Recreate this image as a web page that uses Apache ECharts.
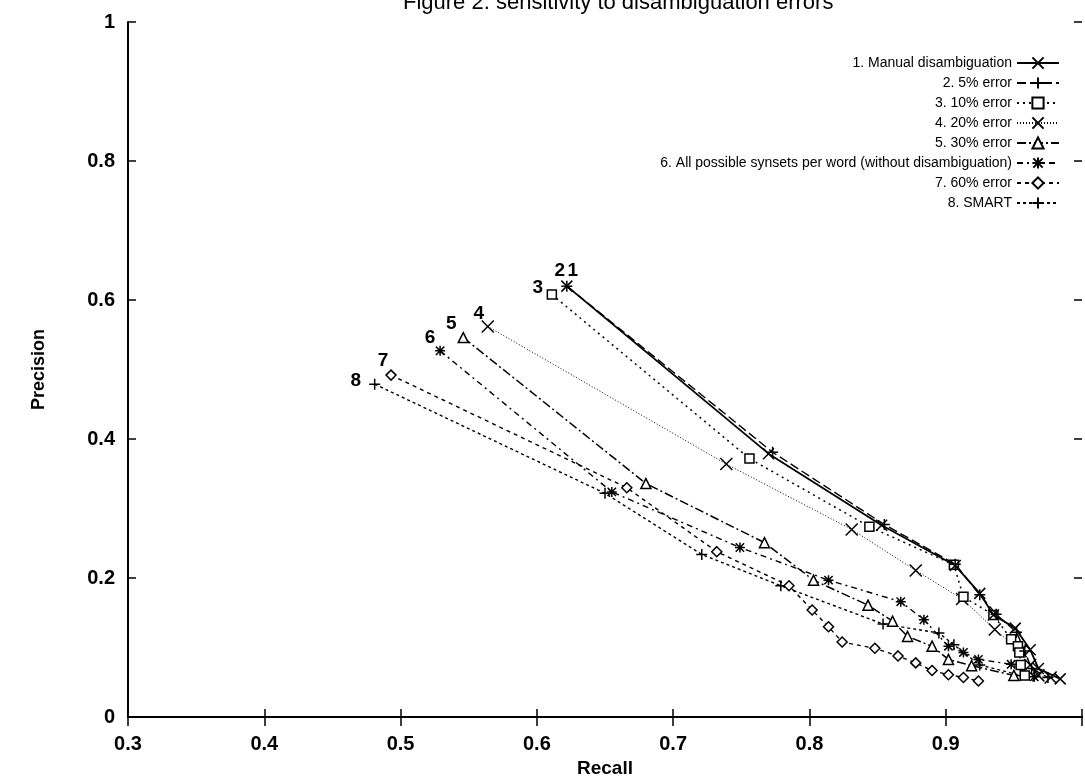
<!DOCTYPE html>
<html>
<head>
<meta charset="utf-8">
<script src="https://cdn.jsdelivr.net/npm/echarts@6/dist/echarts.min.js"></script>
<style>
html,body{margin:0;padding:0;background:#fff;overflow:hidden;width:1085px;height:783px;}
#chart{width:1085px;height:783px;position:absolute;left:0;top:0;}
</style>
</head>
<body>
<div id="chart"></div>
<script>
// ---- data ----
const seriesNames = [
  '1. Manual disambiguation',
  '2. 5% error',
  '3. 10% error',
  '4. 20% error',
  '5. 30% error',
  '6. All possible synsets per word (without disambiguation)',
  '7. 60% error',
  '8. SMART'
];
const startLabels = ['1', '2', '3', '4', '5', '6', '7', '8'];

const s1Recall    = [0.622, 0.770, 0.853, 0.907, 0.925, 0.935, 0.951, 0.962, 0.968, 0.984];
const s1Precision = [0.620, 0.379, 0.276, 0.218, 0.178, 0.147, 0.128, 0.097, 0.070, 0.055];

const s2Recall    = [0.622, 0.773, 0.855, 0.907, 0.925, 0.937, 0.952, 0.958, 0.963, 0.975];
const s2Precision = [0.620, 0.381, 0.277, 0.220, 0.176, 0.148, 0.122, 0.095, 0.070, 0.057];

const s3Recall    = [0.611, 0.756, 0.844, 0.906, 0.913, 0.935, 0.948, 0.953, 0.954, 0.955, 0.958];
const s3Precision = [0.608, 0.372, 0.274, 0.219, 0.173, 0.147, 0.112, 0.102, 0.093, 0.075, 0.060];

const s4Recall    = [0.564, 0.739, 0.831, 0.878, 0.912, 0.936, 0.955, 0.962, 0.968, 0.977];
const s4Precision = [0.562, 0.364, 0.270, 0.211, 0.170, 0.126, 0.095, 0.075, 0.060, 0.057];

const s5Recall    = [0.546, 0.680, 0.767, 0.803, 0.843, 0.861, 0.872, 0.890, 0.902, 0.919, 0.950];
const s5Precision = [0.546, 0.336, 0.251, 0.197, 0.161, 0.138, 0.116, 0.102, 0.083, 0.074, 0.060];

const s6Recall    = [0.529, 0.655, 0.749, 0.814, 0.867, 0.884, 0.902, 0.913, 0.924, 0.948, 0.965];
const s6Precision = [0.527, 0.324, 0.244, 0.197, 0.166, 0.140, 0.102, 0.093, 0.083, 0.076, 0.058];

const s7Recall    = [0.493, 0.666, 0.732, 0.785, 0.802, 0.814, 0.824, 0.848, 0.865, 0.878, 0.890, 0.902, 0.913, 0.924];
const s7Precision = [0.492, 0.330, 0.238, 0.189, 0.154, 0.130, 0.108, 0.099, 0.088, 0.078, 0.067, 0.061, 0.057, 0.052];

const s8Recall    = [0.481, 0.650, 0.721, 0.779, 0.854, 0.895, 0.906, 0.925, 0.955];
const s8Precision = [0.479, 0.322, 0.234, 0.189, 0.134, 0.121, 0.104, 0.075, 0.060];

const xTicks = [0.3, 0.4, 0.5, 0.6, 0.7, 0.8, 0.9, 1.0];
const yTicks = [0, 0.2, 0.4, 0.6, 0.8, 1];

// ---- styles ----
const recalls = [s1Recall, s2Recall, s3Recall, s4Recall, s5Recall, s6Recall, s7Recall, s8Recall];
const precisions = [s1Precision, s2Precision, s3Precision, s4Precision, s5Precision, s6Precision, s7Precision, s8Precision];

const P_X = 'path://M0,0L10,10M10,0L0,10';
const P_PLUS = 'path://M5,0L5,10M0,5L10,5';
const P_STAR = 'path://M0,0L10,10M10,0L0,10M5,-1L5,11M-1,5L11,5';

const styles = [
  {symbol: P_X, size: 11, dash: 'solid', width: 1.8, fill: '#000'},
  {symbol: P_PLUS, size: 11, dash: [9, 4], width: 1.4, fill: '#000'},
  {symbol: 'rect', size: 9, dash: [2, 4], width: 1.5, fill: '#fff'},
  {symbol: P_X, size: 12, dash: [1, 2], width: 1.0, fill: '#000'},
  {symbol: 'triangle', size: 10, dash: [9, 3, 2, 3], width: 1.5, fill: '#fff'},
  {symbol: P_STAR, size: 10, dash: [6, 4, 2, 4], width: 1.4, fill: '#000'},
  {symbol: 'diamond', size: 10, dash: [4, 4], width: 1.4, fill: '#fff'},
  {symbol: P_PLUS, size: 11, dash: [3, 3], width: 1.4, fill: '#000'}
];
const labelOffsets = [[6, -15], [-7, -15], [-14, -7], [-9, -13], [-12, -14], [-10, -13], [-8, -14], [-19, -3]];

const FONT = 'Arial, "Liberation Sans", Helvetica, sans-serif';

const series = seriesNames.map((name, i) => {
  const st = styles[i];
  const data = recalls[i].map((r, j) => {
    const item = {value: [r, precisions[i][j]]};
    if (j === 0) {
      item.label = {
        show: true,
        formatter: startLabels[i],
        position: 'inside',
        offset: labelOffsets[i],
        color: '#000',
        fontSize: 19,
        fontWeight: 'bold',
        fontFamily: FONT
      };
    }
    return item;
  });
  return {
    name: name,
    type: 'line',
    data: data,
    symbol: st.symbol,
    symbolSize: st.size,
    showAllSymbol: true,
    z: 10 - i,
    lineStyle: {color: '#000', width: st.width, type: st.dash},
    itemStyle: {color: st.fill, borderColor: '#000', borderWidth: 1.5},
    emphasis: {disabled: true},
    animation: false
  };
});

const axisLineStyle = {color: '#000', width: 2};

const option = {
  animation: false,
  backgroundColor: '#fff',
  title: {
    text: 'Figure 2. sensitivity to disambiguation errors',
    left: 398,
    top: -13,
    textStyle: {fontSize: 22, fontWeight: 'normal', color: '#000', fontFamily: FONT}
  },
  grid: {left: 128, width: 960, top: 22, height: 705, containLabel: false},
  legend: {
    orient: 'vertical',
    right: 20,
    top: 51,
    align: 'right',
    itemWidth: 42,
    itemHeight: 14,
    itemGap: 6,
    data: seriesNames,
    textStyle: {
      fontSize: 14,
      color: '#000',
      fontFamily: FONT,
      width: 470,
      align: 'right',
      lineHeight: 14
    }
  },
  xAxis: [
    {
      type: 'value', min: xTicks[0], max: xTicks[xTicks.length - 1], interval: 0.1,
      name: 'Recall', nameLocation: 'middle', nameGap: 38,
      nameTextStyle: {fontSize: 19, fontWeight: 'bold', color: '#000', fontFamily: FONT},
      axisLine: {show: true, lineStyle: axisLineStyle},
      axisTick: {show: true, inside: true, length: 8, lineStyle: {color: '#000', width: 1.5}},
      axisLabel: {
        show: true, margin: 17, color: '#000', fontSize: 20, fontWeight: 'bold', fontFamily: FONT,
        formatter: v => (v >= 0.999 ? '' : String(Math.round(v * 10) / 10))
      },
      splitLine: {show: false}
    },
    {
      type: 'value', position: 'top', min: xTicks[0], max: xTicks[xTicks.length - 1], interval: 0.1,
      axisLine: {show: true, lineStyle: axisLineStyle},
      axisTick: {show: true, inside: true, length: 9, lineStyle: {color: '#000', width: 1.5}},
      axisLabel: {show: false},
      splitLine: {show: false}
    }
  ],
  yAxis: [
    {
      type: 'value', min: yTicks[0], max: yTicks[yTicks.length - 1], interval: 0.2,
      name: 'Precision', nameLocation: 'middle', nameGap: 80, nameRotate: 90,
      nameTextStyle: {fontSize: 18, fontWeight: 'bold', color: '#000', fontFamily: FONT},
      axisLine: {show: true, lineStyle: axisLineStyle},
      axisTick: {show: true, inside: true, length: 8, lineStyle: {color: '#000', width: 1.5}},
      axisLabel: {
        show: true, margin: 13, color: '#000', fontSize: 20, fontWeight: 'bold', fontFamily: FONT,
        formatter: v => String(Math.round(v * 10) / 10)
      },
      splitLine: {show: false}
    },
    {
      type: 'value', position: 'right', min: yTicks[0], max: yTicks[yTicks.length - 1], interval: 0.2,
      axisLine: {show: false},
      axisTick: {show: true, inside: true, length: 8, lineStyle: {color: '#000', width: 1.5}},
      axisLabel: {show: false},
      splitLine: {show: false}
    }
  ],
  series: series
};

const chart = echarts.init(document.getElementById('chart'), null, {renderer: 'canvas', width: 1085, height: 783});
chart.setOption(option);
</script>
</body>
</html>
